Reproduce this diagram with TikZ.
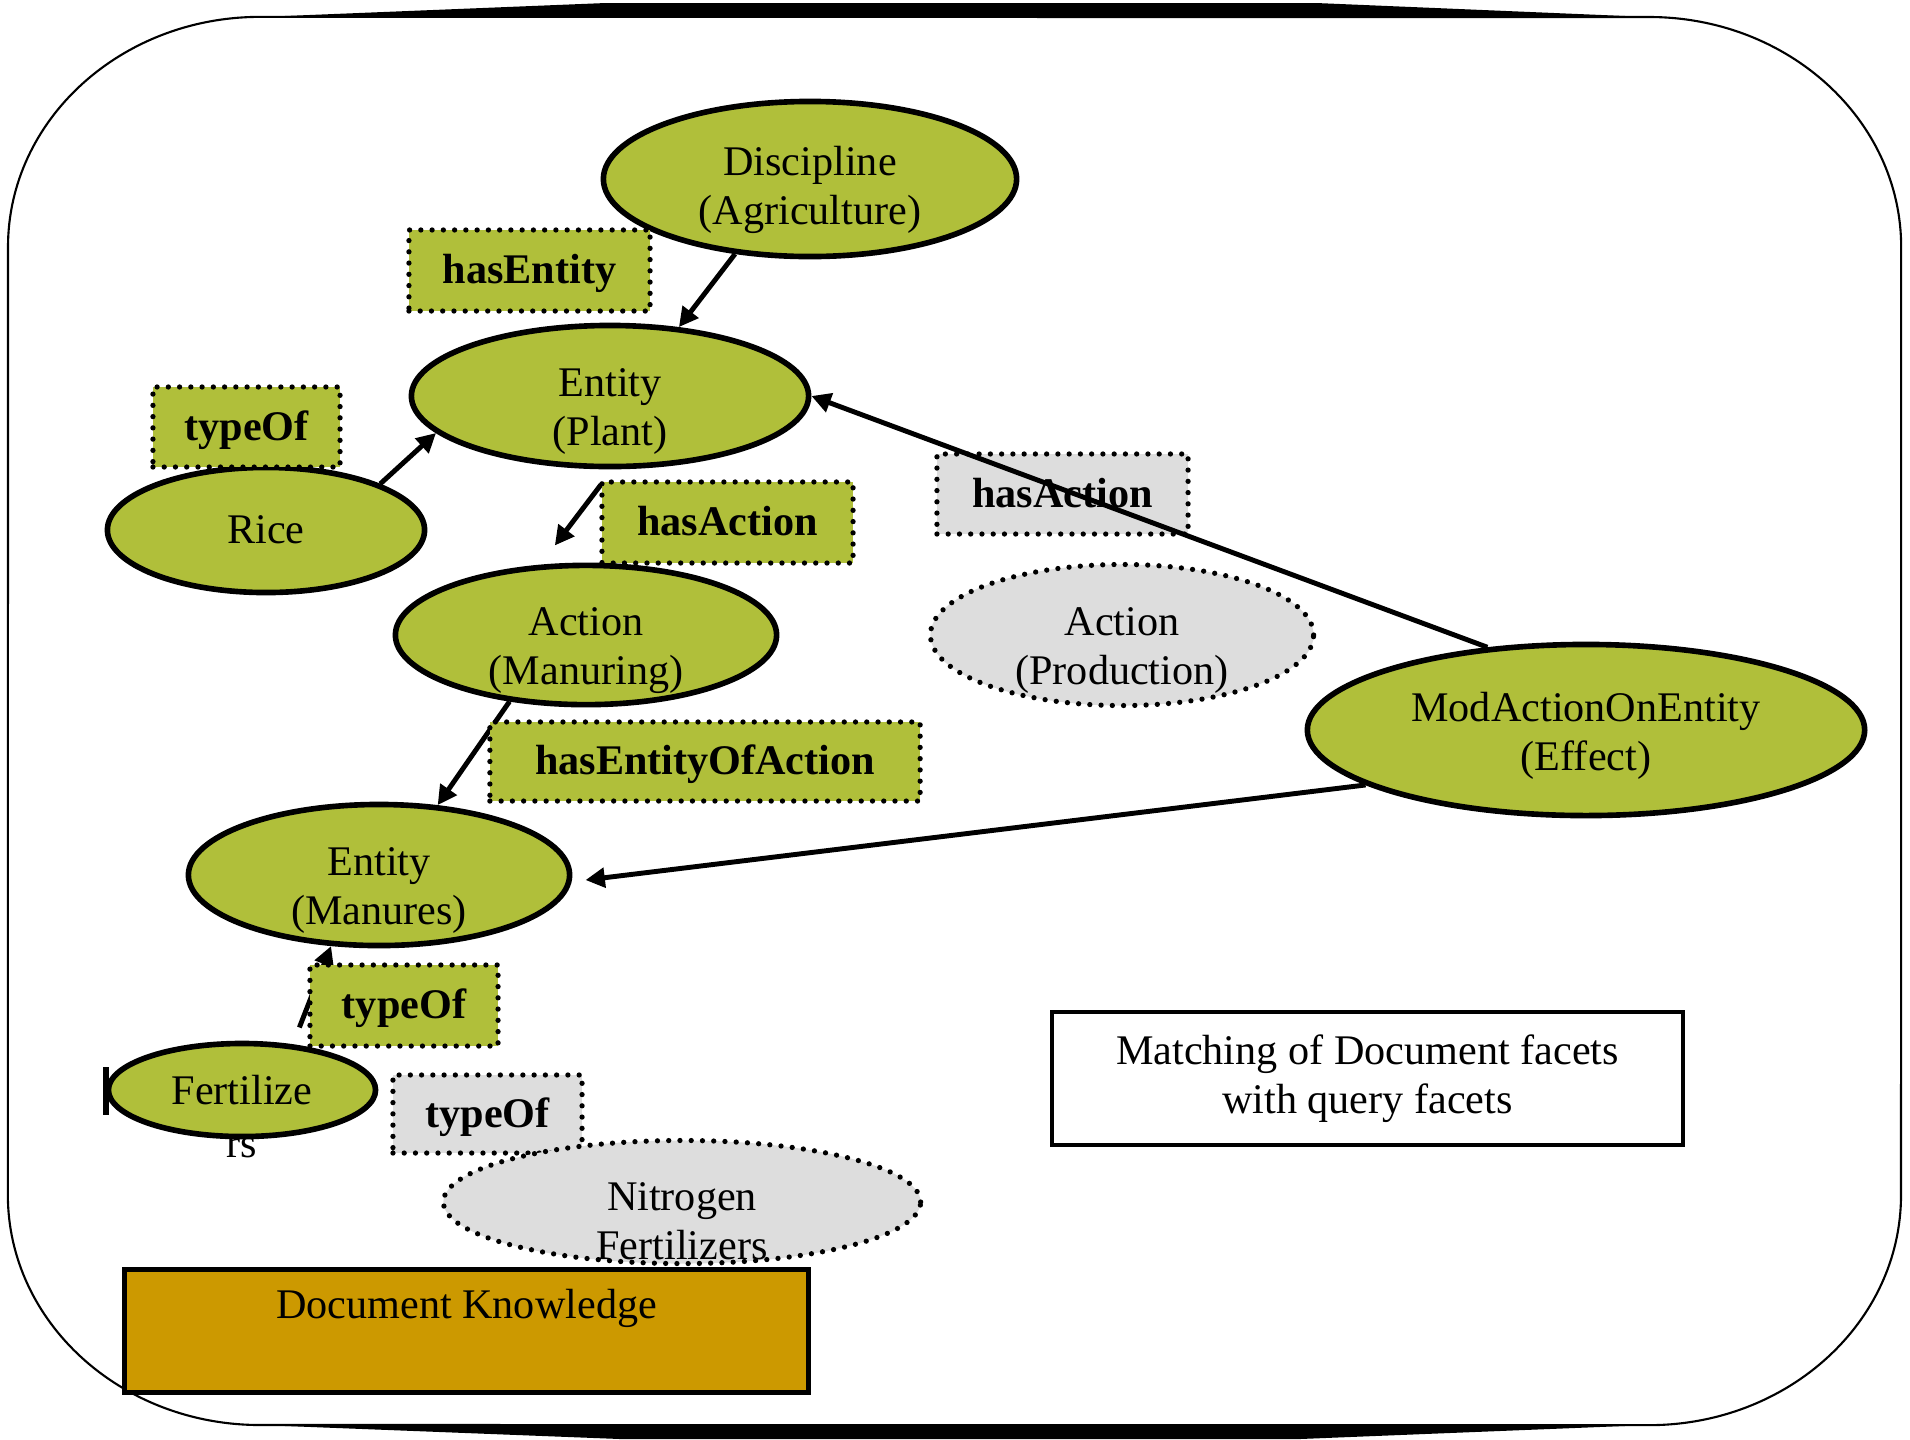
\documentclass[tikz,border=0pt]{standalone}
\usepackage{fontspec}
\setmainfont{Liberation Serif}
\usetikzlibrary{shapes.geometric,arrows.meta,positioning}
\definecolor{leafgreen}{RGB}{176,191,58}
\definecolor{facetgray}{RGB}{221,221,221}
\definecolor{dkgold}{RGB}{204,153,0}
\tikzset{
	dotline/.style={line width=1.5pt, dash pattern=on 0pt off 3.2pt, line cap=round},
	concept/.style={ellipse, draw, line width=1.6pt, fill=leafgreen, inner sep=0pt, align=center},
	facet/.style={ellipse, draw, dotline, fill=facetgray, inner sep=0pt, align=center},
	twoline/.style={text height=#1, text depth=-2.4pt},
	twoline/.default=28pt,
	relbox/.style={rectangle, draw, dotline, fill=leafgreen, inner sep=0pt, text height=10pt, text depth=2.6pt, font=\fontsize{12}{14}\selectfont\bfseries},
	relgray/.style={relbox, fill=facetgray},
	rel/.style={line width=1.4pt, -{Triangle[length=5.5pt,width=5.5pt]}}
}

\begin{document}
\begin{tikzpicture}[x=0.01cm, y=-0.01cm, font=\fontsize{12}{14}\selectfont]
			%%%%% START %%%%%
			\useasboundingbox (0,0) rectangle (1910,1439);
			
			\draw[line width=0.6pt] (8,247) arc[start angle=180, end angle=90, x radius=2.52cm, y radius=2.3cm] -- (1649,17)
				arc[start angle=90, end angle=0, x radius=2.52cm, y radius=2.3cm] -- (1901,1195)
				arc[start angle=0, end angle=-90, x radius=2.52cm, y radius=2.3cm] -- (260,1425)
				arc[start angle=-90, end angle=-180, x radius=2.52cm, y radius=2.3cm] -- cycle;
			\fill (260,17) -- (606,3) -- (1316,3) -- (1649,17) -- cycle;
			\fill (260,1425) -- (620,1439) -- (1300,1439) -- (1649,1425) -- cycle;
			
			\node[relgray, minimum width=2.51cm, minimum height=0.8cm] (hasactq) at (1062.5,494) {hasAction};
			\node[relgray, minimum width=1.89cm, minimum height=0.78cm] (typeofq) at (487.5,1114) {typeOf};
			
			\node[concept, twoline=26pt, minimum width=4.13cm, minimum height=1.55cm] (disc) at (810,179) {Discipline\\(Agriculture)};
			\node[concept, twoline, minimum width=3.97cm, minimum height=1.41cm] (plant) at (610,396) {Entity\\(Plant)};
			\node[concept, minimum width=3.17cm, minimum height=1.25cm] (rice) at (266,530) {Rice};
			\node[concept, twoline, minimum width=3.81cm, minimum height=1.39cm] (manu) at (586,635) {Action\\(Manuring)};
			\node[facet, twoline, minimum width=3.83cm, minimum height=1.41cm] (prod) at (1122,635) {Action\\(Production)};
			\node[concept, twoline=23pt, minimum width=5.57cm, minimum height=1.71cm] (effect) at (1586,730) {ModActionOnEntity\\(Effect)};
			\node[concept, twoline, minimum width=3.81cm, minimum height=1.41cm] (manures) at (379,875) {Entity\\(Manures)};
			
			\node[anchor=base] (rs) at (242,1157) {rs};
			\node[concept, minimum width=2.67cm, minimum height=0.93cm] (fert) at (242,1090) {Fertilize};
			\fill (103,1067) rectangle (109,1115);
			
			\node[facet, minimum width=4.77cm, minimum height=1.23cm] (nitro) at (682,1202) {};
			\node[align=center] (nitrotext) at (682,1221) {Nitrogen\\Fertilizers};
			
			% relations
			\draw[rel] (disc.225) -- (plant.45);
			\draw[rel] (rice.22) -- (plant.192);
			\draw[rel, shorten <=0.19cm, shorten >=0.24cm] (plant.272) -- (manu.123);
			\draw[rel] (manu.221) -- (manures.50);
			\draw[rel] (effect.140) -- (plant.east);
			\draw[rel, shorten >=0.14cm] (effect.194) -- (manures.-2);
			\draw[rel, shorten <=0.18cm] (fert.42) -- (manures.236);
			
			\node[relbox, minimum width=2.41cm, minimum height=0.81cm] (hasent) at (529.5,270.5) {hasEntity};
			\node[relbox, minimum width=1.87cm, minimum height=0.8cm] (typeofrice) at (246.5,427) {typeOf};
			\node[relbox, minimum width=2.51cm, minimum height=0.81cm] (hasact) at (727.5,522.5) {hasAction};
			\node[relbox, minimum width=4.3cm, minimum height=0.79cm] (hasentact) at (705,761.5) {hasEntityOfAction};
			\node[relbox, minimum width=1.88cm, minimum height=0.81cm] (typeoffert) at (404,1005.5) {typeOf};
			
			\node[draw, line width=1.5pt, fill=dkgold, minimum width=6.84cm, minimum height=1.23cm, inner sep=0pt] (dk) at (466.5,1331) {};
			\node (dktext) [below=0.1cm of dk.north] {Document Knowledge};
			
			\node[draw, line width=1.2pt, fill=white, minimum width=6.31cm, minimum height=1.33cm, align=center] (match) at (1367.5,1078.5) {Matching of Document facets\\with query facets};
			
			%%%%% END %%%%%
\end{tikzpicture}
\end{document}
